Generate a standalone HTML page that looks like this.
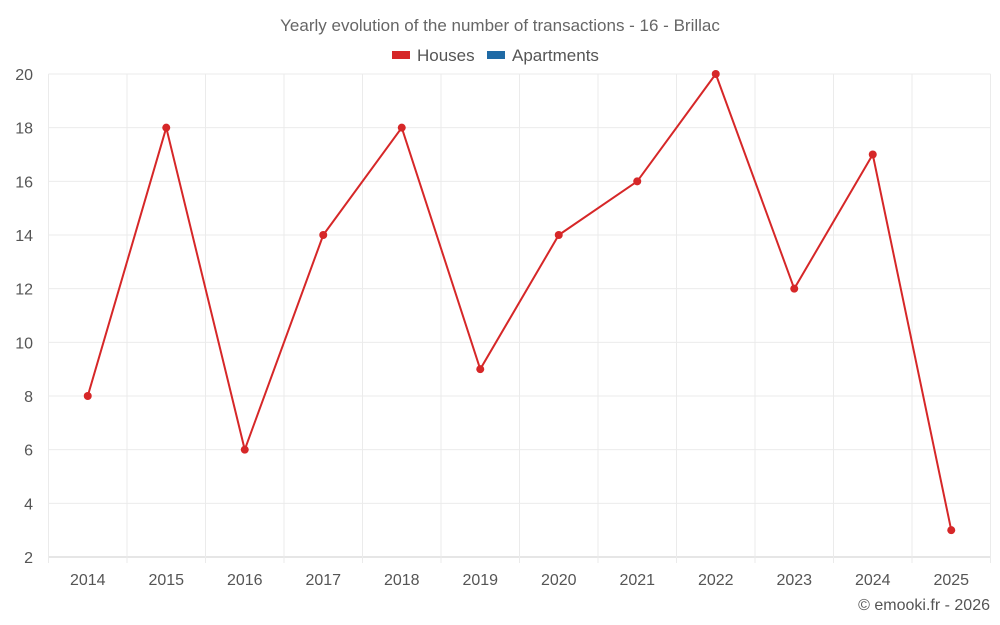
<!DOCTYPE html>
<html><head><meta charset="utf-8">
<style>
html,body{margin:0;padding:0;background:#fff;}
svg{display:block;font-family:"Liberation Sans",sans-serif;}
</style></head>
<body>
<svg id="chart" width="1000" height="625" viewBox="0 0 1000 625">
<text x="500" y="31" text-anchor="middle" font-size="17" fill="#666">Yearly evolution of the number of transactions - 16 - Brillac</text>
<g>
<g><rect x="392" y="51" width="18" height="8" fill="#d62728"/><text x="417" y="61" font-size="17" fill="#555">Houses</text></g>
<g><rect x="487" y="51" width="18" height="8" fill="#1f6aa5"/><text x="512" y="61" font-size="17" fill="#555">Apartments</text></g>
</g>
<g id="grid"></g>
<g id="axes"></g>
<g id="series"></g>
<text x="990" y="610" text-anchor="end" font-size="16" fill="#555">© emooki.fr - 2026</text>
</svg>
<script>
const categories = ["2014","2015","2016","2017","2018","2019","2020","2021","2022","2023","2024","2025"];
const houses = [8,18,6,14,18,9,14,16,20,12,17,3];
const yTicks = [2,4,6,8,10,12,14,16,18,20];

const NS="http://www.w3.org/2000/svg";
const L=48.5,R=990.5,T=74,B=557,yMin=2,yMax=20;
const band=(R-L)/categories.length;
const x=i=>L+band*(i+0.5);
const y=v=>B-(v-yMin)/(yMax-yMin)*(B-T);
function mk(tag,attrs,parent){const e=document.createElementNS(NS,tag);for(const k in attrs)e.setAttribute(k,attrs[k]);parent.appendChild(e);return e;}
const grid=document.getElementById('grid'),axes=document.getElementById('axes'),series=document.getElementById('series');
yTicks.forEach(v=>{
  const ln=mk('line',{x1:L,x2:R,y1:y(v),y2:y(v),stroke:v===yMin?'#ccc':'#ebebeb','stroke-width':1},grid);
  
  
  const t=mk('text',{x:33,y:y(v)+6,'text-anchor':'end','font-size':16,fill:'#555'},axes);
  t.textContent=v;
  
  
});
for(let i=0;i<=categories.length;i++){
  const gx=L+band*i;
  const ln=mk('line',{x1:gx,x2:gx,y1:T,y2:B+(i<categories.length+1?6:0),stroke:'#ebebeb','stroke-width':1},grid);
  
  
}
categories.forEach((c,i)=>{
  const t=mk('text',{x:x(i),y:585,'text-anchor':'middle','font-size':16,fill:'#555'},axes);
  t.textContent=c;
  
  
});
const pl=mk('polyline',{points:houses.map((v,i)=>x(i)+','+y(v)).join(' '),fill:'none',stroke:'#d62728','stroke-width':2},series);


houses.forEach((v,i)=>{
  const c=mk('circle',{cx:x(i),cy:y(v),r:4,fill:'#d62728'},series);
  
  
});
</script>
</body></html>
